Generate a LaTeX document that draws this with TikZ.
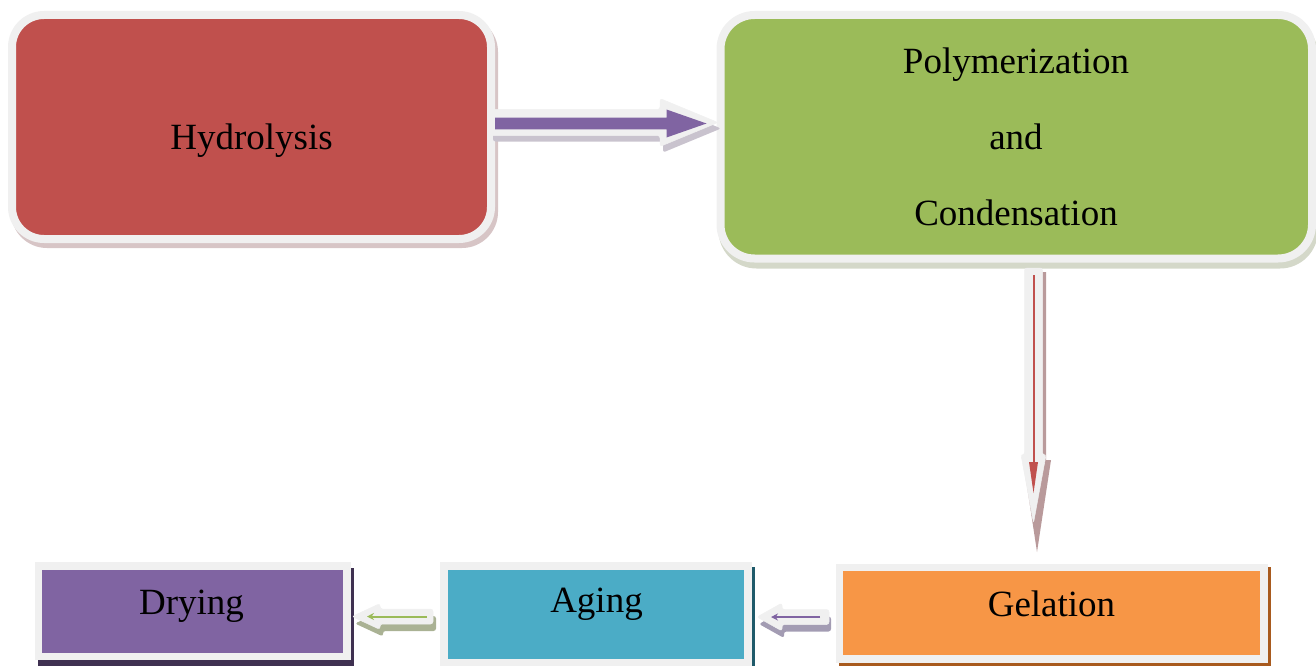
\documentclass[tikz,border=0pt]{standalone}
\usepackage{fontspec}
\setmainfont{Liberation Serif}
\usetikzlibrary{calc,arrows.meta}
\pgfdeclarelayer{background}
\pgfsetlayers{background,main}
\definecolor{outl}{HTML}{F0F0F0}
\definecolor{cred}{HTML}{C0504D}
\definecolor{cgreen}{HTML}{9BBB59}
\definecolor{corange}{HTML}{F79646}
\definecolor{cteal}{HTML}{4BACC6}
\definecolor{cpurple}{HTML}{8064A2}
\definecolor{shred}{HTML}{D7C5C6}
\definecolor{shgreen}{HTML}{D4D8C9}
\definecolor{shorange}{HTML}{A85A1E}
\definecolor{shteal}{HTML}{1F5A6A}
\definecolor{shpurple}{HTML}{3F3151}
\definecolor{sha1}{HTML}{C9C3CE}
\definecolor{sha2}{HTML}{B99A9B}
\definecolor{sha3}{HTML}{A39CB3}
\definecolor{sha4}{HTML}{AAB294}
\begin{document}
\begin{tikzpicture}[x=1pt,y=-1pt,
  box/.style={draw=outl, inner sep=0pt, outer sep=0pt},
  lbl/.style={anchor=base, inner sep=0pt, font=\fontsize{37}{44}\selectfont},
  arrowout/.style={fill=outl, draw=black!6, line width=0.5pt, rounded corners=2.5pt},
  thinarrow/.style={line width=2pt, -{Stealth[length=7pt,width=7pt]}}
]
\useasboundingbox (0,0) rectangle (1316,666);

% boxes
\node[box, fill=cred, line width=8pt, rounded corners=32pt, minimum width=479pt, minimum height=224pt] (h) at (251.5,127) {};
\node[box, fill=cgreen, line width=8pt, rounded corners=34pt, minimum width=591.5pt, minimum height=243.5pt] (p) at (1016.25,136.75) {};
\node[box, fill=corange, line width=7.5pt, minimum width=424.5pt, minimum height=91.5pt] (g) at (1051.75,613.25) {};
\node[box, fill=cteal, line width=8pt, minimum width=303.5pt, minimum height=96.5pt] (a) at (595.75,614.25) {};
\node[box, fill=cpurple, line width=7.5pt, minimum width=308.5pt, minimum height=90.5pt] (d) at (192.75,611.25) {};

% shadows
\begin{pgfonlayer}{background}
\fill[shred, rounded corners=36pt] ($(h.north west)+(-1,1)$) rectangle ($(h.south east)+(7,9)$);
\fill[shgreen, rounded corners=38pt] ($(p.north west)+(-2,2)$) rectangle ($(p.south east)+(6,10)$);
\fill[shorange] ($(g.north west)+(-1,-1)$) rectangle ($(g.south east)+(7,7)$);
\fill[shteal] ($(a.north west)+(-1,1)$) rectangle ($(a.south east)+(7,9)$);
\fill[shpurple] ($(d.north west)+(-1,2)$) rectangle ($(d.south east)+(7,10)$);
\end{pgfonlayer}

% labels
\node[lbl] (ht) at (251.5,149) {Hydrolysis};
\node[lbl] (pt1) at (1016,74) {Polymerization};
\node[lbl] (pt2) at (1016,149) {and};
\node[lbl] (pt3) at (1016,225) {Condensation};
\node[lbl] (gt) at (1051.5,616) {Gelation};
\node[lbl] (at) at (596.5,612) {Aging};
\node[lbl] (dt) at (191.5,614) {Drying};

% arrow Hydrolysis -> Polymerization
\coordinate (a1) at ($(h.east)+(-1,-4.5)$);
\begin{scope}[shift={(a1)}]
  \fill[sha1, rounded corners=2.5pt, shift={(3,6)}] (0,-13) -- (170,-13) -- (170,-24) -- (228,0) -- (170,24) -- (170,13) -- (0,13) -- cycle;
  \path[arrowout] (0,-13) -- (170,-13) -- (170,-24) -- (228,0) -- (170,24) -- (170,13) -- (0,13) -- cycle;
  \fill[cpurple] (5,-4.8) -- (176.5,-4.8) -- (176.5,-13) -- (216.5,1) -- (176.5,15) -- (176.5,6.8) -- (5,6.8) -- cycle;
\end{scope}

% arrow Polymerization -> Gelation
\coordinate (a2) at ($(p.south)+(17.25,9.5)$);
\begin{scope}[shift={(a2)}]
  \fill[sha2] (-6,4) -- (12.5,4) -- (12.5,192) -- (17.5,192) -- (3.5,284) -- (-10.5,192) -- (-6,192) -- cycle;
  \path[arrowout] (-9,0) -- (9,0) -- (9,187) -- (12.5,187) -- (0,255) -- (-12.5,187) -- (-9,187) -- cycle;
  \draw[cred, line width=2pt] (0,7) -- (0,196);
  \fill[cred] (-4.5,194) -- (4.5,194) -- (0,225) -- cycle;
\end{scope}

% arrow Gelation -> Aging
\coordinate (a3) at ($(g.west)+(-10.5,3.75)$);
\begin{scope}[shift={(a3)}]
  \fill[sha3, rounded corners=2.5pt, shift={(2,7)}] (0,-7.5) -- (-47,-7.5) -- (-47,-14) -- (-72,0) -- (-47,14) -- (-47,7.5) -- (0,7.5) -- cycle;
  \path[arrowout] (0,-7.5) -- (-47,-7.5) -- (-47,-14) -- (-72,0) -- (-47,14) -- (-47,7.5) -- (0,7.5) -- cycle;
  \draw[cpurple, thinarrow] (-9,0) -- (-58,0);
\end{scope}

% arrow Aging -> Drying
\coordinate (a4) at ($(a.west)+(-11,2.25)$);
\begin{scope}[shift={(a4)}]
  \fill[sha4, rounded corners=2.5pt, shift={(3,7)}] (0,-7.5) -- (-53,-7.5) -- (-53,-13) -- (-81,0) -- (-53,13) -- (-53,7.5) -- (0,7.5) -- cycle;
  \path[arrowout] (0,-7.5) -- (-53,-7.5) -- (-53,-13) -- (-81,0) -- (-53,13) -- (-53,7.5) -- (0,7.5) -- cycle;
  \draw[cgreen, thinarrow] (-6,0) -- (-66,0);
\end{scope}
\end{tikzpicture}
\end{document}
